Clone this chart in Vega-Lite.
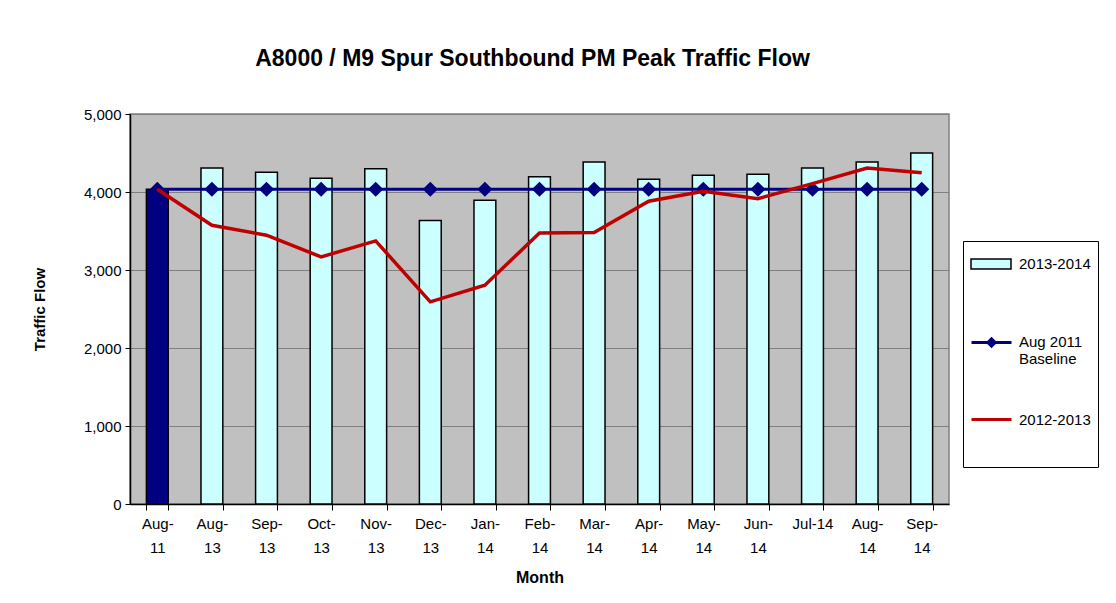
{
  "$schema": "https://vega.github.io/schema/vega-lite/v6.json",
  "autosize": {"type": "none"},
  "width": 819,
  "height": 390,
  "padding": {"left": 130, "top": 114, "right": 167, "bottom": 99},
  "background": "white",
  "config": {
    "font": "Liberation Sans",
    "view": {"fill": "#C0C0C0", "stroke": "#808080", "strokeWidth": 1.5}
  },
  "title": {
    "text": "A8000 / M9 Spur Southbound PM Peak Traffic Flow",
    "font": "Liberation Sans",
    "fontSize": 23,
    "fontWeight": "bold",
    "color": "black",
    "anchor": "middle",
    "frame": "group",
    "offset": 36,
    "dx": -7
  },
  "data": {
    "values": [
      {"month": "Aug-11", "f1314": 4035, "base": 4035, "f1213": 4035},
      {"month": "Aug-13", "f1314": 4307, "base": 4035, "f1213": 3574},
      {"month": "Sep-13", "f1314": 4252, "base": 4035, "f1213": 3446},
      {"month": "Oct-13", "f1314": 4175, "base": 4035, "f1213": 3168},
      {"month": "Nov-13", "f1314": 4299, "base": 4035, "f1213": 3373},
      {"month": "Dec-13", "f1314": 3634, "base": 4035, "f1213": 2592},
      {"month": "Jan-14", "f1314": 3894, "base": 4035, "f1213": 2805},
      {"month": "Feb-14", "f1314": 4197, "base": 4035, "f1213": 3475},
      {"month": "Mar-14", "f1314": 4384, "base": 4035, "f1213": 3480},
      {"month": "Apr-14", "f1314": 4162, "base": 4035, "f1213": 3881},
      {"month": "May-14", "f1314": 4214, "base": 4035, "f1213": 4009},
      {"month": "Jun-14", "f1314": 4227, "base": 4035, "f1213": 3915},
      {"month": "Jul-14", "f1314": 4307, "base": 4035, "f1213": 4107},
      {"month": "Aug-14", "f1314": 4384, "base": 4035, "f1213": 4307},
      {"month": "Sep-14", "f1314": 4500, "base": 4035, "f1213": 4248}
    ]
  },
  "encoding": {
    "x": {
      "field": "month",
      "type": "nominal",
      "sort": null,
      "scale": {"paddingInner": 0.6, "paddingOuter": 0.3},
      "axis": {
        "title": "Month",
        "titleFont": "Liberation Sans",
        "titleFontSize": 16,
        "titleFontWeight": "bold",
        "titleColor": "black",
        "titlePadding": 14,
        "labelAngle": 0,
        "labelFont": "Liberation Sans",
        "labelFontSize": 15,
        "labelColor": "black",
        "labelLineHeight": 24,
        "labelPadding": 6,
        "labelExpr": "!isString(datum.value) ? '' : datum.value == 'Jul-14' ? datum.value : [split(datum.value, '-')[0] + '-', split(datum.value, '-')[1]]",
        "tickBand": "extent",
        "tickColor": "black",
        "tickSize": 6,
        "domainColor": "black",
        "domainWidth": 1.5,
        "grid": false
      }
    }
  },
  "resolve": {"scale": {"color": "independent"}, "legend": {"color": "independent"}},
  "layer": [
    {
      "mark": {"type": "point", "shape": "square", "filled": true, "color": "white", "fillOpacity": 0, "strokeOpacity": 0},
      "encoding": {
        "y": {"field": "base", "type": "quantitative"},
        "opacity": {
          "datum": "2013-2014",
          "type": "nominal",
          "scale": {
            "domain": ["2013-2014", "Aug 2011 Baseline", "2012-2013"],
            "range": [1, 1, 1]
          },
          "legend": {
            "orient": "none",
            "legendX": 833,
            "legendY": 127,
            "title": " ",
            "titleOrient": "bottom",
            "titleFontSize": 10,
            "titlePadding": 2,
            "strokeColor": "black",
            "fillColor": "white",
            "padding": 7,
            "rowPadding": 32,
            "symbolSize": 1600,
            "symbolOffset": 0,
            "symbolFillColor": "white",
            "symbolStrokeColor": "white",
            "labelFont": "Liberation Sans",
            "labelFontSize": 15,
            "labelColor": "black",
            "labelOffset": 7,
            "labelBaseline": "alphabetic",
            "labelExpr": "datum.label == 'Aug 2011 Baseline' ? ['Aug 2011', 'Baseline'] : datum.label"
          }
        }
      }
    },
    {
      "mark": {"type": "bar", "stroke": "black", "strokeWidth": 1.5},
      "encoding": {
        "y": {
          "field": "f1314",
          "type": "quantitative",
          "scale": {"domain": [0, 5000]},
          "axis": {
            "title": "Traffic Flow",
            "titleFont": "Liberation Sans",
            "titleFontSize": 15,
            "titleFontWeight": "bold",
            "titleColor": "black",
            "titlePadding": 36,
            "values": [0, 500, 1000, 1500, 2000, 2500, 3000, 3500, 4000, 4500, 5000],
            "labelExpr": "format(datum.value, ',')",
            "labelOverlap": false,
            "labelFont": "Liberation Sans",
            "labelFontSize": 15,
            "labelColor": "black",
            "labelPadding": 4,
            "tickColor": "black",
            "tickSize": 5,
            "domainColor": "black",
            "domainWidth": 1.5,
            "gridColor": "#808080",
            "gridWidth": 1
          }
        },
        "color": {
          "condition": {"test": "datum.month == 'Aug-11'", "value": "#000080"},
          "datum": "2013-2014",
          "type": "nominal",
          "scale": {"domain": ["2013-2014"], "range": ["#CCFFFF"]},
          "legend": {
            "orient": "none",
            "legendX": 840,
            "legendY": 129,
            "title": null,
            "padding": 0,
            "labelExpr": "''",
            "symbolSize": 1600,
            "symbolOffset": 0,
            "symbolType": "M-1,-0.25L1,-0.25L1,0.25L-1,0.25Z",
            "symbolStrokeColor": "black",
            "symbolStrokeWidth": 1.5,
            "symbolOpacity": 1
          }
        }
      }
    },
    {
      "mark": {"type": "line", "strokeWidth": 3, "point": {"shape": "diamond", "size": 230, "filled": true}},
      "encoding": {
        "y": {"field": "base", "type": "quantitative"},
        "color": {
          "datum": "Aug 2011 Baseline",
          "type": "nominal",
          "scale": {"domain": ["Aug 2011 Baseline"], "range": ["#000080"]},
          "legend": {
            "orient": "none",
            "legendX": 840,
            "legendY": 207,
            "title": null,
            "padding": 0,
            "labelExpr": "''",
            "symbolSize": 1600,
            "symbolOffset": 0,
            "symbolType": "M-1,0L1,0M0,-0.18L0.18,0L0,0.18L-0.18,0Z",
            "symbolFillColor": "#000080",
            "symbolStrokeWidth": 3,
            "symbolOpacity": 1
          }
        }
      }
    },
    {
      "mark": {"type": "line", "strokeWidth": 3.5},
      "encoding": {
        "y": {"field": "f1213", "type": "quantitative"},
        "color": {
          "datum": "2012-2013",
          "type": "nominal",
          "scale": {"domain": ["2012-2013"], "range": ["#C00000"]},
          "legend": {
            "orient": "none",
            "legendX": 840,
            "legendY": 284,
            "title": null,
            "padding": 0,
            "labelExpr": "''",
            "symbolSize": 1600,
            "symbolOffset": 0,
            "symbolType": "M-1,0L1,0",
            "symbolFillColor": "transparent",
            "symbolStrokeWidth": 3,
            "symbolOpacity": 1
          }
        }
      }
    }
  ]
}
